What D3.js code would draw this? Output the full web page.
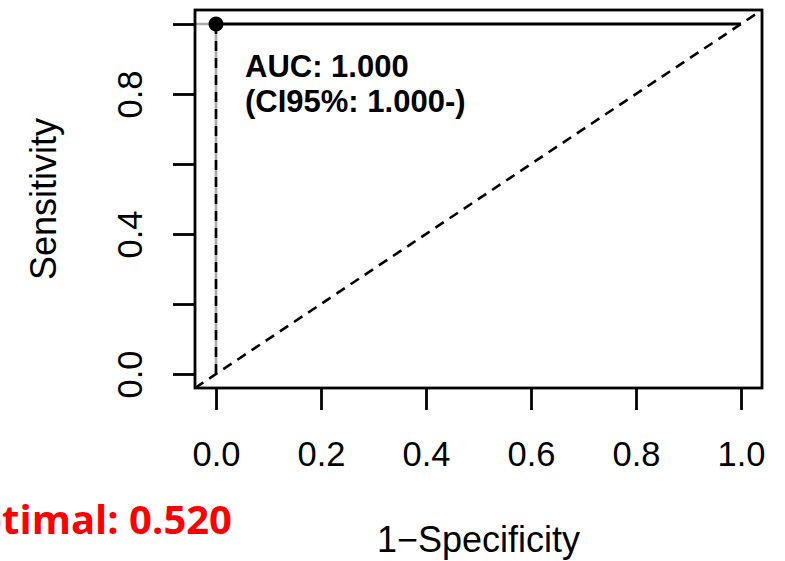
<!DOCTYPE html>
<html>
<head>
<meta charset="utf-8">
<script src="https://cdn.jsdelivr.net/npm/d3@7"></script>
<style>
    body { margin: 0; background: #fff; }
    svg { display: block; }
    text { font-family: "Liberation Sans", Arial, sans-serif; }
</style>
</head>
<body>
<div id="chart"></div>
<script>
// DATA
// roc curve in (1-specificity, sensitivity)
const rocFpr = [0, 0, 1];
const rocTpr = [0, 1, 1];
// grey part of the curve (runs out to the left edge of the plot region)
const greyFpr = [-0.04, 0, 0];
const greyTpr = [1, 1, 0];
// chance line
const diagFpr = [-0.04, 1.04];
const diagTpr = [-0.04, 1.04];
const optimalPoint = [0, 1];
const xTicks = [0, 0.2, 0.4, 0.6, 0.8, 1.0];
const yTicks = [0, 0.2, 0.4, 0.6, 0.8, 1.0];
const yTickLabels = ["0.0", "", "0.4", "", "0.8", ""];
const aucLines = ["AUC: 1.000", "(CI95%: 1.000-)"];
const optimalLabel = "Optimal: 0.520";

const width = 785;
const height = 561;
const margin = { left: 195, right: 23, top: 10, bottom: 173 };

const x = d3.scaleLinear()
    .domain([-0.04, 1.04])
    .range([margin.left, width - margin.right]);

const y = d3.scaleLinear()
    .domain([-0.04, 1.04])
    .range([height - margin.bottom, margin.top]);

const svg = d3.select("#chart")
    .append("svg")
    .attr("width", width)
    .attr("height", height);

svg.append("clipPath")
    .attr("id", "plotclip")
    .append("rect")
    .attr("x", x(-0.04))
    .attr("y", y(1.04))
    .attr("width", x(1.04) - x(-0.04))
    .attr("height", y(-0.04) - y(1.04));

const line = d3.line()
    .x(d => x(d[0]))
    .y(d => y(d[1]));

const plot = svg.append("g").attr("clip-path", "url(#plotclip)");

// chance diagonal
plot.append("path")
    .datum(d3.zip(diagFpr, diagTpr))
    .attr("d", line)
    .attr("fill", "none")
    .attr("stroke", "#000")
    .attr("stroke-width", 2.6)
    .attr("stroke-dasharray", "10,7");

// grey curve
plot.append("path")
    .datum(d3.zip(greyFpr, greyTpr))
    .attr("d", line)
    .attr("fill", "none")
    .attr("stroke", "#aaa")
    .attr("stroke-width", 2.6);

// black curve: dashed vertical part, solid top
const roc = d3.zip(rocFpr, rocTpr);
plot.append("path")
    .datum(roc.slice(0, 2))
    .attr("d", line)
    .attr("fill", "none")
    .attr("stroke", "#000")
    .attr("stroke-width", 2.6)
    .attr("stroke-dasharray", "10,7");

plot.append("path")
    .datum(roc.slice(1))
    .attr("d", line)
    .attr("fill", "none")
    .attr("stroke", "#000")
    .attr("stroke-width", 2.8);

plot.append("circle")
    .attr("cx", x(optimalPoint[0]))
    .attr("cy", y(optimalPoint[1]))
    .attr("r", 7.5)
    .attr("fill", "#000");

// box
svg.append("rect")
    .attr("x", x(-0.04))
    .attr("y", y(1.04))
    .attr("width", x(1.04) - x(-0.04))
    .attr("height", y(-0.04) - y(1.04))
    .attr("fill", "none")
    .attr("stroke", "#000")
    .attr("stroke-width", 2.8);

// AXES
const xAxis = d3.axisBottom(x)
    .tickValues(xTicks)
    .tickSize(22)
    .tickPadding(32)
    .tickFormat(d3.format(".1f"));

const gx = svg.append("g")
    .attr("transform", `translate(0, ${y(-0.04)})`)
    .call(xAxis);

const yAxis = d3.axisLeft(y)
    .tickValues(yTicks)
    .tickSize(22)
    .tickFormat((d, i) => yTickLabels[i]);

const gy = svg.append("g")
    .attr("transform", `translate(${x(-0.04)}, 0)`)
    .call(yAxis);

gy.selectAll("text")
    .attr("transform", "rotate(-90)")
    .attr("x", 0)
    .attr("y", -53)
    .attr("dy", 0)
    .attr("text-anchor", "middle");

[gx, gy].forEach(g => {
    g.select(".domain").remove();
    g.selectAll("line").attr("stroke", "#000").attr("stroke-width", 2.8);
    g.selectAll("text")
        .attr("fill", "#000")
        .style("font-family", "'Liberation Sans', Arial, sans-serif")
        .style("font-size", "34.5px");
});

// axis titles
svg.append("text")
    .attr("x", (x(-0.04) + x(1.04)) / 2)
    .attr("y", 552)
    .attr("text-anchor", "middle")
    .style("font-size", "36px")
    .text("1\u2212Specificity");

svg.append("text")
    .attr("transform", `translate(56, ${(y(-0.04) + y(1.04)) / 2}) rotate(-90)`)
    .attr("text-anchor", "middle")
    .style("font-size", "36px")
    .text("Sensitivity");

// auc annotation
svg.append("g")
    .selectAll("text")
    .data(aucLines)
    .join("text")
    .attr("x", 245)
    .attr("y", (d, i) => 77 + i * 35)
    .style("font-size", "31px")
    .style("font-weight", "bold")
    .text(d => d);

// red label, partly cut off at the left edge
svg.append("text")
    .attr("x", 232)
    .attr("y", 534)
    .attr("text-anchor", "end")
    .attr("fill", "#ff0000")
    .style("font-family", "'Open Sans', sans-serif")
    .style("font-weight", "bold")
    .style("font-size", "40px")
    .text(optimalLabel);
</script>
</body>
</html>
